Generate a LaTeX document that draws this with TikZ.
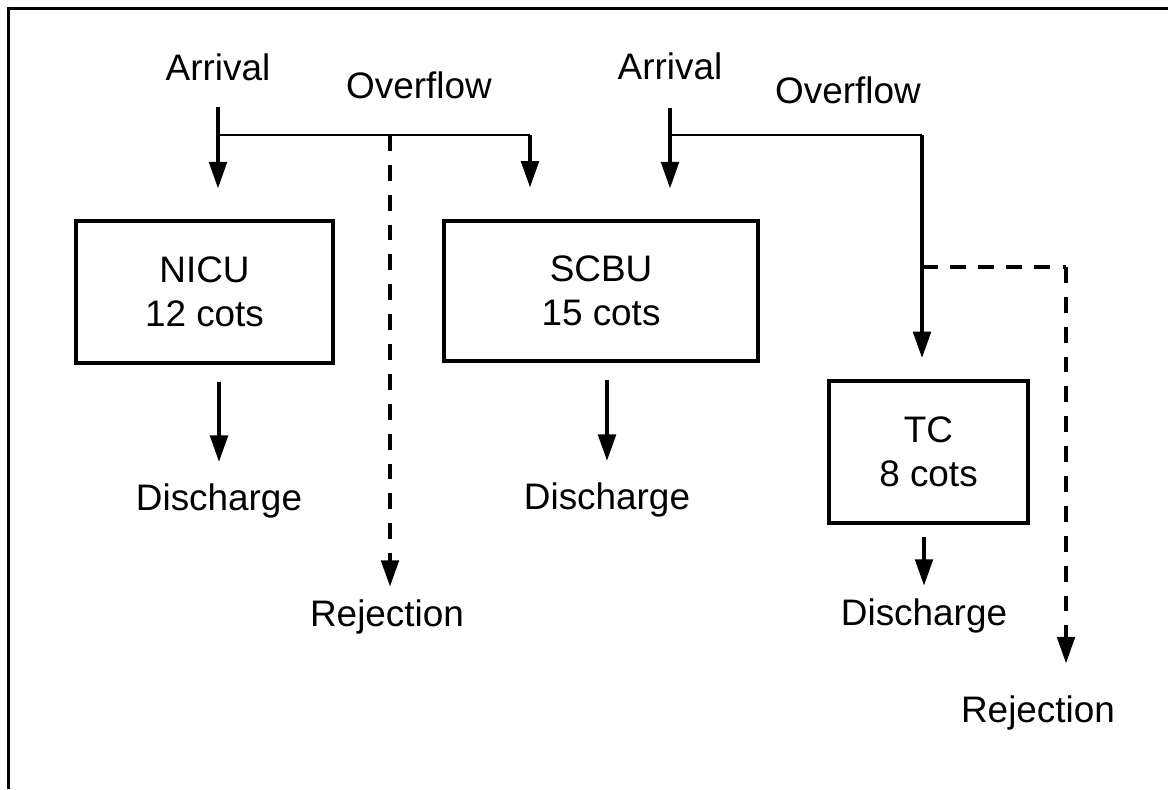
\documentclass[tikz,border=0pt]{standalone}
\usepackage{fontspec}
\setmainfont{Liberation Sans}
\usetikzlibrary{arrows.meta,calc}

\tikzset{
  unit/.style={draw, line width=2.2pt, align=center, inner sep=0pt,
    font=\fontsize{21}{25}\selectfont},
  lbl/.style={anchor=base, inner sep=0pt, font=\fontsize{21}{25}\selectfont},
  flow/.style={line width=2pt, -{Triangle[length=15pt,width=10pt]}},
  link/.style={line width=1.4pt},
  rejflow/.style={flow, dash pattern=on 9pt off 8pt},
}

\begin{document}
\begin{tikzpicture}[x=0.02cm, y=-0.02cm]
\useasboundingbox (0,0) rectangle (1168,789);
\draw[line width=1.6pt] (8.7,789) -- (8.7,8.7) -- (1168,8.7);

\node[unit, minimum width=5.14cm, minimum height=2.84cm] (nicu) at (204.5,292) {NICU\\12 cots};
\node[unit, minimum width=6.28cm, minimum height=2.80cm] (scbu) at (601,291) {SCBU\\15 cots};
\node[unit, minimum width=3.98cm, minimum height=2.84cm] (tc) at (928.5,452) {TC\\8 cots};

\node[lbl] (arr1) at (218,80) {Arrival};
\node[lbl] (ovf1) at (419,98) {Overflow};
\node[lbl] (arr2) at (670,79) {Arrival};
\node[lbl] (ovf2) at (848,103) {Overflow};
\node[lbl] (dis1) at (219,510) {Discharge};
\node[lbl] (dis2) at (607,509) {Discharge};
\node[lbl] (dis3) at (924,625) {Discharge};
\node[lbl] (rej1) at (387,626) {Rejection};
\node[lbl] (rej2) at (1038,722) {Rejection};

\coordinate (j1) at (218,135);
\coordinate (k1) at (530,135);
\coordinate (d1) at (390,135);
\coordinate (j2) at (670,135);
\coordinate (k2) at (922,135);
\coordinate (j3) at (922,267);
\coordinate (k3) at (1066,267);

\draw[flow, shorten <=15pt, shorten >=17.5pt] (arr1.south) -- (arr1.south |- nicu.north);
\draw[flow, shorten <=16pt, shorten >=17.5pt] (arr2.south) -- (arr2.south |- scbu.north);

\draw[link] (j1) -- (k1);
\draw[flow, shorten >=18pt] (k1) -- (k1 |- scbu.north);
\draw[rejflow, shorten >=7pt] (d1) -- (d1 |- rej1.north);

\draw[link] (j2) -- (k2);
\draw[flow, shorten >=12pt] (k2) -- (k2 |- tc.north);
\draw[line width=1.8pt, dash pattern=on 9pt off 7pt] (j3) -- (k3);
\draw[rejflow, shorten >=18pt] (k3) -- (k3 |- rej2.north);

\draw[flow, shorten <=9.5pt, shorten >=12pt] (dis1.north |- nicu.south) -- (dis1.north);
\draw[flow, shorten <=9.5pt, shorten >=12pt] (dis2.north |- scbu.south) -- (dis2.north);
\draw[flow, shorten <=7pt, shorten >=7pt] (dis3.north |- tc.south) -- (dis3.north);
\end{tikzpicture}
\end{document}
